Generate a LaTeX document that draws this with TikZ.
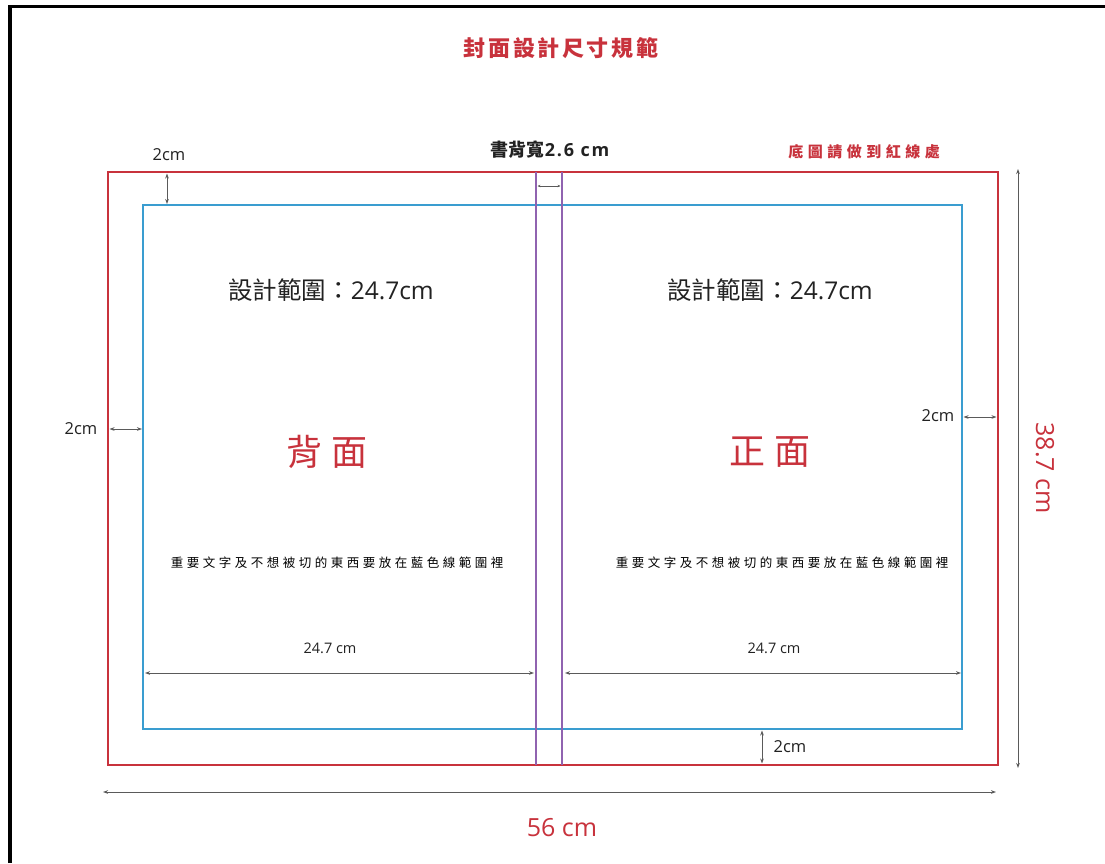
\documentclass[tikz,border=0pt]{standalone}
\usepackage{fontspec}
\setmainfont{Open Sans}
\newfontfamily\cjk{Noto Sans CJK TC}
\usetikzlibrary{arrows.meta}
\definecolor{cutred}{HTML}{C8323C}
\definecolor{safeblue}{HTML}{3A9DD0}
\definecolor{spinepurple}{HTML}{9063B0}
\definecolor{dimgray}{HTML}{5A5A5A}
\definecolor{txt}{HTML}{222222}
\begin{document}
\begin{tikzpicture}[x=1pt,y=-1pt,
  tip/.tip={Stealth[length=5pt,width=3.6pt]},
  dim/.style={draw=dimgray, line width=1pt, tip-tip},
  lbl/.style={inner sep=0pt, text=txt},
  small/.style={lbl, font=\fontsize{16.5}{16.5}\selectfont},
  redbig/.style={inner sep=0pt, text=cutred, font=\fontsize{25}{25}\selectfont},
  area/.style={lbl, font=\fontsize{24.5}{24.5}\selectfont},
  side/.style={inner sep=0pt, text=cutred, font=\fontsize{36}{36}\selectfont\cjk},
  note/.style={inner sep=0pt, text=black, font=\fontsize{12.5}{12.5}\selectfont\cjk\addfontfeature{LetterSpace=28}},
  wdim/.style={lbl, font=\fontsize{14.5}{14.5}\selectfont}]
\useasboundingbox (0,0) rectangle (1105,863);
\fill[white] (0,0) rectangle (1105,863);
% outer black frame (top and left)
\draw[black, line width=3.5pt] (10,863) -- (10,6.5) -- (1105,6.5);

% geometry
\coordinate (rTL) at (108,172);
\coordinate (rBR) at (998,765);
\coordinate (bTL) at (143,205);
\coordinate (bBR) at (962,729);
\draw[cutred, line width=2pt] (rTL) rectangle (rBR);
\draw[safeblue, line width=1.6pt] (bTL) rectangle (bBR);
\coordinate (sp1t) at (536,172);
\coordinate (sp1b) at (536,765);
\coordinate (sp2t) at (562,172);
\coordinate (sp2b) at (562,765);
\draw[spinepurple, line width=1.2pt] (sp1t) -- (sp1b);
\draw[spinepurple, line width=1.2pt] (sp2t) -- (sp2b);

% title and top labels
\node[inner sep=0pt, text=cutred, font=\fontsize{22}{22}\selectfont\cjk\bfseries\addfontfeature{LetterSpace=12}] (title) at (561,48) {封面設計尺寸規範};
\node[lbl, font=\fontsize{18}{18}\selectfont\bfseries] (spinelbl) at (550,150) {{\cjk 書背寬}\addfontfeature{LetterSpace=10}2.6 cm};
\node[inner sep=0pt, text=cutred, font=\fontsize{15}{15}\selectfont\cjk\bfseries\addfontfeature{LetterSpace=30}] (bleed) at (864,152) {底圖請做到紅線處};

% spine dimension
\coordinate (spa) at (537.5,186);
\coordinate (spb) at (560.5,186);
\draw[dim, line width=0.7pt, {Stealth[length=3pt,width=2.4pt]}-{Stealth[length=3pt,width=2.4pt]}] (spa) -- (spb);

% 2cm margins
\node[small] (t2) at (169,155) {2cm};
\coordinate (t2a) at (167,173.5);
\coordinate (t2b) at (167,204);
\draw[dim] (t2a) -- (t2b);

\node[small] (l2) at (81,429) {2cm};
\coordinate (l2a) at (109.5,429);
\coordinate (l2b) at (142,429);
\draw[dim] (l2a) -- (l2b);

\node[small] (r2) at (938,416) {2cm};
\coordinate (r2a) at (963.5,417);
\coordinate (r2b) at (996.5,417);
\draw[dim] (r2a) -- (r2b);

\node[small] (b2) at (790,747) {2cm};
\coordinate (b2a) at (762,730.5);
\coordinate (b2b) at (762,763.5);
\draw[dim] (b2a) -- (b2b);

% overall dimensions
\coordinate (ha) at (103,792);
\coordinate (hb) at (996,792);
\draw[dim] (ha) -- (hb);
\node[redbig] (w56) at (562,828) {56 cm};

\coordinate (va) at (1018,169);
\coordinate (vb) at (1018,768);
\draw[dim] (va) -- (vb);
\node[redbig, rotate=-90] (h387) at (1045,468) {38.7 cm};

% back cover
\node[area] (areaL) at (331,290) {{\cjk 設計範圍：}24.7cm};
\node[side] (back) at (327,452) {背 面};
\node[note] (noteL) at (337,563) {重要文字及不想被切的東西要放在藍色線範圍裡};
\node[wdim] (wL) at (330,648) {24.7 cm};
\coordinate (wLa) at (145,673);
\coordinate (wLb) at (534,673);
\draw[dim] (wLa) -- (wLb);

% front cover
\node[area] (areaR) at (770,290) {{\cjk 設計範圍：}24.7cm};
\node[side] (front) at (770,452) {正 面};
\node[note] (noteR) at (782,563) {重要文字及不想被切的東西要放在藍色線範圍裡};
\node[wdim] (wR) at (774,648) {24.7 cm};
\coordinate (wRa) at (565,673);
\coordinate (wRb) at (961,673);
\draw[dim] (wRa) -- (wRb);
\end{tikzpicture}
\end{document}
